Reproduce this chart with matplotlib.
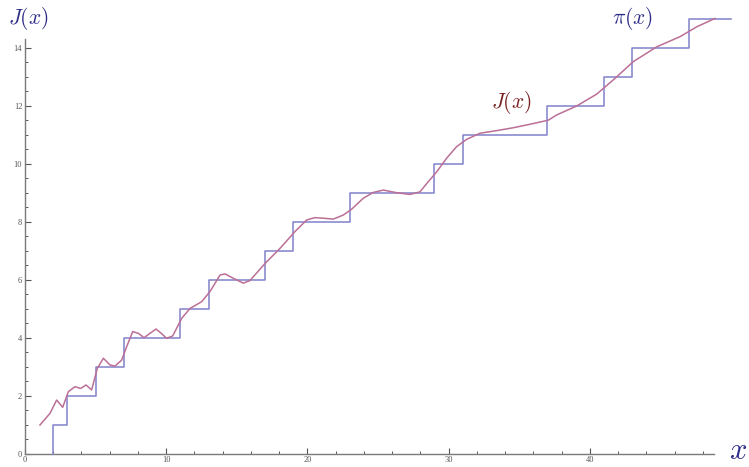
import matplotlib
matplotlib.use("Agg")
import numpy as np
import matplotlib.pyplot as plt

plt.rcParams["mathtext.fontset"] = "cm"

# prime counting function pi(x): jump locations and values
prime_x = [2, 2, 3, 5, 7, 11, 13, 17, 19, 23, 29, 31, 37, 41, 43, 47, 50]
prime_count = [0, 1, 2, 3, 4, 5, 6, 7, 8, 9, 10, 11, 12, 13, 14, 15, 15]

# Riemann's J(x) (smoothed explicit-formula approximation)
j_x = [1.06, 1.77, 2.24, 2.67, 3.07, 3.54, 3.94, 4.32, 4.72, 5.12, 5.55, 6.02,
       6.37, 6.85, 7.2, 7.63, 8.03, 8.43, 8.85, 9.28, 9.65, 10.03, 10.46, 11.1,
       11.69, 12.51, 13.1, 13.81, 14.16, 14.75, 15.46, 15.93, 17.0, 18.06,
       19.12, 19.95, 20.54, 21.13, 21.84, 22.54, 23.13, 23.96, 24.67, 25.38,
       26.32, 27.27, 27.97, 28.56, 29.16, 29.86, 30.57, 31.28, 32.22, 33.4,
       34.58, 35.76, 37.06, 37.65, 39.07, 40.49, 41.78, 43.08, 44.74, 46.39,
       47.57, 48.87]
j_y = [0.99, 1.39, 1.85, 1.6, 2.14, 2.31, 2.25, 2.37, 2.2, 2.94, 3.29, 3.06,
       3.02, 3.23, 3.69, 4.21, 4.15, 4.0, 4.15, 4.3, 4.15, 3.98, 4.06, 4.67,
       5.01, 5.24, 5.59, 6.16, 6.2, 6.05, 5.88, 5.97, 6.56, 7.08,
       7.66, 8.06, 8.14, 8.12, 8.09, 8.23, 8.43, 8.81, 9.01, 9.09,
       9.0, 8.94, 9.03, 9.38, 9.72, 10.19, 10.59, 10.84, 11.05, 11.14,
       11.24, 11.36, 11.5, 11.68, 11.99, 12.4, 12.94, 13.52, 14.03, 14.38,
       14.72, 15.01]

x_major = [0, 10, 20, 30, 40]
y_major = [0, 2, 4, 6, 8, 10, 12, 14]

W, H = 749, 467
fig = plt.figure(figsize=(W / 100, H / 100), dpi=100)

x0_px, y0_px = 25.0, 453.7
px_per_x, px_per_y = 14.12, 29.0
xmax, ymax = 50.5, 15.3
ax = fig.add_axes([x0_px / W, (H - y0_px) / H,
                   xmax * px_per_x / W, ymax * px_per_y / H])

step_color = "#8686cc"
curve_color = "#bb6f96"
ax.plot(prime_x, prime_count, drawstyle="steps-post", color=step_color,
        lw=1.15, clip_on=False, zorder=3)
ax.plot(j_x, j_y, color=curve_color, lw=1.1, clip_on=False, zorder=4)

# axes through the origin, Mathematica style
for s in ("top", "right"):
    ax.spines[s].set_visible(False)
axis_color = "#7a7a7a"
for s in ("left", "bottom"):
    ax.spines[s].set_color(axis_color)
    ax.spines[s].set_linewidth(1.0)
x_axis_end, y_axis_end = 48.8, 14.3
ax.spines["bottom"].set_bounds(0, x_axis_end)
ax.spines["left"].set_bounds(0, y_axis_end)

ax.set_xticks(x_major)
ax.set_yticks(y_major)
ax.set_xticks(np.arange(0, x_axis_end, 2), minor=True)
ax.set_yticks(np.arange(0, y_axis_end, 0.5), minor=True)
ax.tick_params(which="major", direction="in", length=4, width=0.8,
               color="#555555", labelsize=6, labelcolor="#555555", pad=2)
ax.tick_params(which="minor", direction="in", length=2.5, width=0.7,
               color="#555555")
ax.set_xlim(0, xmax)
ax.set_ylim(0, ymax)
for lab in ax.get_xticklabels() + ax.get_yticklabels():
    lab.set_fontfamily("Liberation Serif")

label_blue = "#2e2e88"
fig.text(8 / W, 1 - 18 / H, r"$J(x)$", color=label_blue, fontsize=15.5,
         ha="left", va="center")
fig.text(738 / W, 1 - 465 / H, r"$x$", color=label_blue, fontsize=22,
         ha="center", va="bottom")
fig.text(633 / W, 1 - 19 / H, r"$\pi(x)$", color=label_blue, fontsize=15.5,
         ha="center", va="center")
fig.text(511 / W, 1 - 102 / H, r"$J(x)$", color="#7a2222", fontsize=15.5,
         ha="center", va="center")

fig.savefig("out.png", dpi=100)
